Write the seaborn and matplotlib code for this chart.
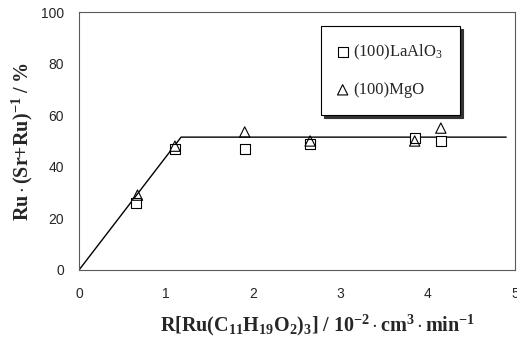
import matplotlib
matplotlib.use("Agg")
import matplotlib.pyplot as plt
import seaborn as sns

# datos
x_lao = [0.65, 1.10, 1.90, 2.65, 3.85, 4.15]
y_lao = [26, 47, 47, 49, 51, 50]
x_mgo = [0.67, 1.10, 1.90, 2.65, 3.85, 4.15]
y_mgo = [29, 48, 53.5, 50, 50, 55]
fit_x = [0, 1.17, 4.9]
fit_y = [0, 51.5, 51.5]

sns.set_style("white")
plt.rcParams["font.family"] = ["Liberation Sans", "DejaVu Sans"]
plt.rcParams["mathtext.fontset"] = "custom"
plt.rcParams["mathtext.rm"] = "Liberation Serif"
plt.rcParams["mathtext.it"] = "Liberation Serif:italic"
plt.rcParams["mathtext.bf"] = "Liberation Serif:bold"

fig = plt.figure(figsize=(5.17, 3.46), dpi=100)
ax = fig.add_axes([0.153, 0.22, 0.843, 0.745])

sns.lineplot(x=fit_x, y=fit_y, ax=ax, color="black", linewidth=1.0)
sns.scatterplot(x=x_lao, y=y_lao, ax=ax, marker="s", s=42, facecolor="white",
                edgecolor="black", linewidth=0.8, label="(100)LaAlO$_3$", zorder=3)
sns.scatterplot(x=x_mgo, y=y_mgo, ax=ax, marker="^", s=55, facecolor="none",
                edgecolor="black", linewidth=0.8, label="(100)MgO", zorder=4)

ax.set_xlim(0, 5)
ax.set_ylim(0, 100)
ax.set_xticks([0, 1, 2, 3, 4, 5])
ax.set_yticks([0, 20, 40, 60, 80, 100])
ax.tick_params(axis="x", direction="in", length=3, labelsize=10, pad=12)
ax.tick_params(axis="y", direction="out", length=3, labelsize=10, pad=8)
for sp in ax.spines.values():
    sp.set_color("0.35")
    sp.set_linewidth(0.8)

ax.set_xlabel(r"$\mathbf{R[Ru(C_{11}H_{19}O_2)_3]\ /\ 10^{-2}\cdot cm^3\cdot min^{-1}}$",
              fontsize=14.5, labelpad=9)
ax.xaxis.label.set_x(0.548)
ax.set_ylabel(r"$\mathbf{Ru\cdot(Sr{+}Ru)^{-1}\ /\ \%}$", fontsize=14.5, labelpad=4)

leg = ax.legend(loc="upper left", bbox_to_anchor=(0.555, 0.945), frameon=True,
                fancybox=False, shadow={"color": "0.2", "alpha": 1}, borderaxespad=0,
                prop={"family": "Liberation Serif", "size": 12},
                borderpad=1.0, labelspacing=1.2, handletextpad=0.35, handlelength=0.6)
leg.get_frame().set_edgecolor("black")
leg.get_frame().set_linewidth(0.8)

fig.savefig("out.png", dpi=100)
